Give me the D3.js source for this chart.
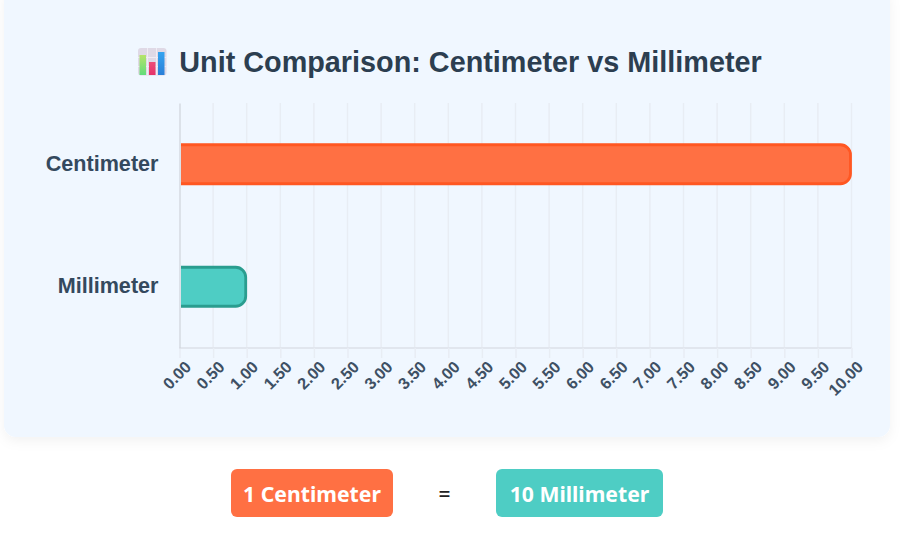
<!DOCTYPE html>
<html><head><meta charset="utf-8">
<script src="https://cdnjs.cloudflare.com/ajax/libs/d3/7.8.5/d3.min.js"></script>
<style>
html,body{margin:0;padding:0;background:#fff;width:901px;height:547px;overflow:hidden}
svg{display:block}
text{font-family:"Liberation Sans",Arial,sans-serif}
</style></head><body>
<svg id="c" width="901" height="547"></svg>
<script>
const categories=["Centimeter","Millimeter"];
const values=[10,1];
const fills=["#ff7043","#4ecdc4"];
const strokes=["#ff5722","#2a9d8f"];
const tickValues=[0,0.5,1,1.5,2,2.5,3,3.5,4,4.5,5,5.5,6,6.5,7,7.5,8,8.5,9,9.5,10];
const titleText="Unit Comparison: Centimeter vs Millimeter";
const pills=[{t:"1 Centimeter",x:231,w:162,c:"#ff7043"},{t:"10 Millimeter",x:496,w:167,c:"#4ecdc4"}];

const svg=d3.select("#c");
const defs=svg.append("defs");
const f=defs.append("filter").attr("id","sh").attr("x","-5%").attr("y","-5%").attr("width","110%").attr("height","110%");
f.append("feDropShadow").attr("dx",0).attr("dy",4).attr("stdDeviation",6).attr("flood-color","#000").attr("flood-opacity",0.05);
const lg=(id,a,b)=>{const l=defs.append("linearGradient").attr("id",id).attr("x1",0).attr("x2",0).attr("y1",0).attr("y2",1);l.append("stop").attr("offset",0).attr("stop-color",a);l.append("stop").attr("offset",1).attr("stop-color",b);};
lg("ig","#b6e36a","#62dc7c");lg("ip","#ee4d78","#e5326a");lg("ib","#35a4f0","#2a7fd8");
svg.append("rect").attr("x",4).attr("y",-12).attr("width",886).attr("height",449).attr("rx",12).attr("fill","#f0f7ff").attr("filter","url(#sh)");

// icon
const ic=svg.append("g").attr("transform","translate(138,48)");
ic.append("rect").attr("width",28.5).attr("height",27.5).attr("rx",3).attr("fill","#dfd9e6");
[9,18].forEach(v=>ic.append("line").attr("x1",v+0.5).attr("x2",v+0.5).attr("y1",0).attr("y2",27.5).attr("stroke","#f0ecf4"));
[9,18].forEach(v=>ic.append("line").attr("y1",v+0.5).attr("y2",v+0.5).attr("x1",0).attr("x2",28.5).attr("stroke","#f0ecf4"));
[[1.5,7,6.5,20,"ig"],[11,14,6.5,13,"ip"],[20,4,6.5,23,"ib"]].forEach(d=>ic.append("rect").attr("x",d[0]).attr("y",d[1]).attr("width",d[2]).attr("height",d[3]).attr("fill",`url(#${d[4]})`));

svg.append("text").attr("x",470.5).attr("y",72).attr("text-anchor","middle").attr("font-size",28.8).attr("font-weight",700).attr("fill","#2c3e50").text(titleText);

const x=d3.scaleLinear().domain([0,10]).range([179.5,851.5]);
const y=d3.scaleBand().domain(categories).range([103,348]).paddingInner(0.657).paddingOuter(0.3285);

svg.append("g").selectAll("line").data(tickValues.slice(1)).join("line").attr("x1",d=>x(d)).attr("x2",d=>x(d)).attr("y1",103).attr("y2",348).attr("stroke","#e8edf4").attr("stroke-width",1.5);

// bars
categories.forEach((c,i)=>{
  const x0=x(0),x1=x(values[i])-1,y0=y(c)+1.5,y1=y(c)+y.bandwidth()-1.5,r=10;
  const p=d3.path();
  p.moveTo(x0+1.5,y0);p.lineTo(x1-r,y0);p.arcTo(x1,y0,x1,y0+r,r);p.lineTo(x1,y1-r);p.arcTo(x1,y1,x1-r,y1,r);p.lineTo(x0+1.5,y1);
  svg.append("path").attr("d",p.toString()+"Z").attr("fill",fills[i]).attr("stroke","none");
  svg.append("path").attr("d",p.toString()).attr("fill","none").attr("stroke",strokes[i]).attr("stroke-width",2.8);
});

// axes
const ax=svg.append("g").attr("transform","translate(0,348)").call(d3.axisBottom(x).tickValues(tickValues).tickSize(10).tickFormat(d3.format(".2f")));
ax.select(".domain").attr("stroke","#e1e6ee").attr("stroke-width",2).attr("d","M179.5,0H851.5");
ax.selectAll(".tick line").attr("stroke","#e8edf4").attr("stroke-width",1.5);
ax.selectAll(".tick text").attr("font-family","Liberation Sans").attr("font-size",16.3).attr("font-weight",700).attr("fill","#3e5064")
  .attr("text-anchor","end").attr("transform","translate(8,16) rotate(-45)").attr("dy",".35em").attr("y",0).attr("x",0);

const ay=svg.append("g").attr("transform","translate(179.5,0)").call(d3.axisLeft(y).tickSize(0).tickPadding(21));
ay.select(".domain").attr("stroke","#cfd3da").attr("stroke-width",1.2);
ay.selectAll(".tick text").attr("font-family","Liberation Sans").attr("font-size",21.6).attr("font-weight",700).attr("fill","#34495e").attr("dy","0.3em");

// pills
pills.forEach(d=>{
  svg.append("rect").attr("x",d.x).attr("y",469).attr("width",d.w).attr("height",48).attr("rx",6).attr("fill",d.c);
  svg.append("text").attr("x",d.x+d.w/2).attr("y",502).attr("text-anchor","middle").attr("font-size",21.2).attr("font-weight",700).attr("fill","#fff").style("font-family","'Noto Sans'").text(d.t);
});
svg.append("text").attr("x",444.5).attr("y",502).attr("text-anchor","middle").attr("font-size",21).attr("font-weight",500).attr("fill","#222").style("font-family","'Noto Sans'").text("=");
</script>
</body></html>
